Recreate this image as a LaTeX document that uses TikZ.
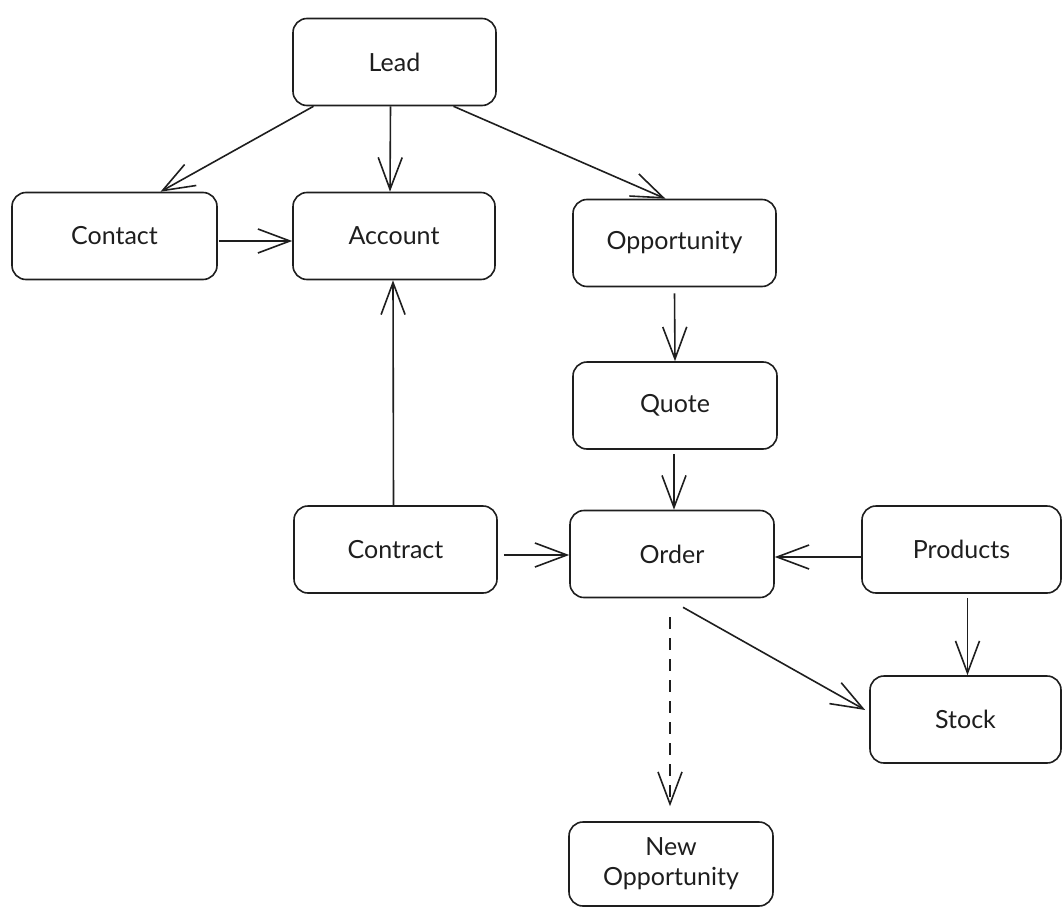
\documentclass[tikz,border=0pt]{standalone}
\usepackage{fontspec}
\setmainfont{Lato}
\usetikzlibrary{arrows.meta}
\definecolor{ink}{HTML}{1E1E1E}
\tikzset{
  box/.style={draw=ink, line width=1.6pt, rounded corners=14pt, fill=white,
    minimum width=#1, minimum height=87pt, inner sep=0pt,
    font=\fontsize{25}{30}\selectfont, text=ink, align=center},
  box/.default={203pt},
  conn/.style={draw=ink, line width=1.6pt,
    -{Straight Barb[length=32pt,width=24pt,line width=1.6pt]}},
  dashconn/.style={conn, dash pattern=on 12pt off 9pt}
}
\begin{document}
\begin{tikzpicture}[x=1pt,y=-1pt]
\useasboundingbox (0,0) rectangle (1062,907);
\node[box] (lead) at (394.5,62) {Lead};
\node[box={205pt}] (contact) at (114.5,236) {Contact};
\node[box={202pt}] (account) at (394,236) {Account};
\node[box] (opp) at (674.5,243) {Opportunity};
\node[box={204pt}] (quote) at (675,405.5) {Quote};
\node[box] (contract) at (395.5,549.5) {Contract};
\node[box={204pt}] (order) at (672,554) {Order};
\node[box={199pt}] (products) at (961.5,549.5) {Products};
\node[box={191pt}] (stock) at (965.5,719.5) {Stock};
\node[box={204pt}, minimum height=84pt] (newopp) at (671,864) {New\\Opportunity};

\draw[conn] ([xshift=-81pt]lead.south) -- ([xshift=46pt]contact.north);
\draw[conn] ([xshift=-4pt]lead.south) -- ([xshift=-4pt]account.north);
\draw[conn] ([xshift=59pt]lead.south) -- ([xshift=-9pt]opp.north);
\draw[conn] ([xshift=1pt,yshift=-5pt]contact.east) -- ([yshift=-5pt]account.west);
\draw[conn] ([xshift=-2pt]contract.north) -- ([xshift=-1pt]account.south);
\draw[conn] ([yshift=-6pt]opp.south) -- (quote.north);
\draw[conn] ([xshift=-1pt,yshift=-4pt]quote.south) -- ([xshift=2pt]order.north);
\draw[conn] ([xshift=6pt,yshift=-5.5pt]contract.east) -- ([yshift=-1pt]order.west);
\draw[conn] ([yshift=-7.5pt]products.west) -- ([yshift=-3pt]order.east);
\draw[conn] ([xshift=6pt,yshift=-4pt]products.south) -- ([xshift=2pt]stock.north);
\draw[conn] ([xshift=11pt,yshift=-9pt]order.south) -- ([xshift=-4pt,yshift=9.5pt]stock.west);
\draw[dashconn] ([xshift=-2pt,yshift=-19pt]order.south) -- ([xshift=-1pt,yshift=15pt]newopp.north);
\end{tikzpicture}
\end{document}
